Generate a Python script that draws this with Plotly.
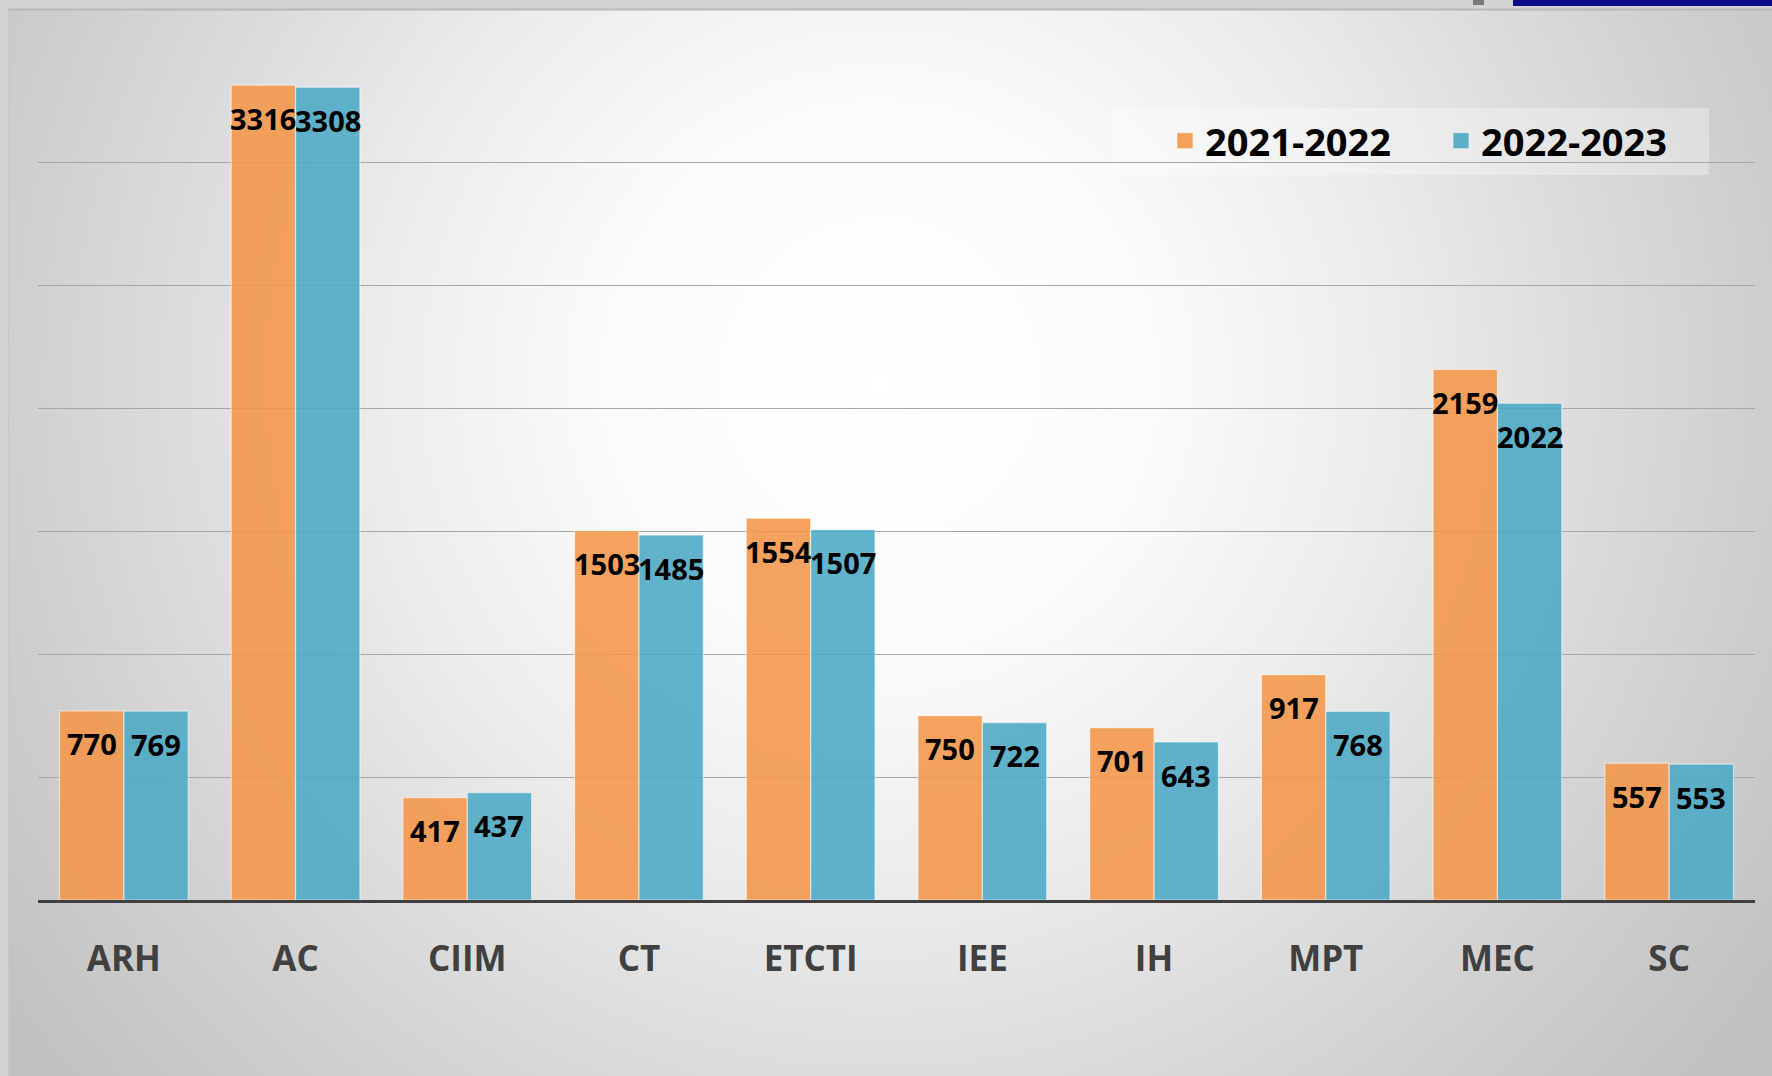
import base64
import plotly.graph_objects as go

categories = ["ARH", "AC", "CIIM", "CT", "ETCTI", "IEE", "IH", "MPT", "MEC", "SC"]
series_2021_2022 = [770, 3316, 417, 1503, 1554, 750, 701, 917, 2159, 557]
series_2022_2023 = [769, 3308, 437, 1485, 1507, 722, 643, 768, 2022, 553]
series_names = ["2021-2022", "2022-2023"]

W, H = 1772, 1076
ML, MR, MT, MB = 38, 17, 40, 176
PW, PH = W - ML - MR, H - MT - MB


def px_x(x):
    return (x - ML) / PW


def px_y(y):
    return (H - MB - y) / PH


# radial gradient panel background
svg = """<svg xmlns='http://www.w3.org/2000/svg' width='1764' height='1067' viewBox='0 0 1764 1067' preserveAspectRatio='none'>
<defs><radialGradient id='g' gradientUnits='userSpaceOnUse' cx='872' cy='370' r='1080'>
<stop offset='0' stop-color='#ffffff'/>
<stop offset='0.25' stop-color='#fbfbfb'/>
<stop offset='0.47' stop-color='#ececec'/>
<stop offset='0.64' stop-color='#dddddd'/>
<stop offset='0.81' stop-color='#cfcfcf'/>
<stop offset='1' stop-color='#c1c1c1'/>
</radialGradient></defs>
<rect x='0' y='0' width='1764' height='1067' fill='url(#g)'/>
</svg>"""
svg_uri = "data:image/svg+xml;base64," + base64.b64encode(svg.encode()).decode()

colors = ["rgb(244,151,73)", "rgb(76,170,197)"]
FONT = "Open Sans, Noto Sans, sans-serif"

fig = go.Figure()
for name, vals, col in zip(series_names, [series_2021_2022, series_2022_2023], colors):
    fig.add_trace(go.Bar(
        name=name, x=categories, y=vals, legendgroup=name, showlegend=False,
        marker=dict(color=col, opacity=0.88,
                    line=dict(color="rgba(255,255,255,0.6)", width=1.2)),
        hoverinfo="x+y+name",
    ))
# legend entries (larger square swatches), toggling the matching bar series
for name, col in zip(series_names, colors):
    fig.add_trace(go.Scatter(
        name=name, x=[None], y=[None], mode="markers", legendgroup=name,
        marker=dict(symbol="square", size=16, color=col, opacity=0.9,
                    line=dict(color="rgba(255,255,255,0.6)", width=1)),
        showlegend=True, hoverinfo="skip",
    ))

annotations = []
half = 0.375 / 2
for i, (a, b) in enumerate(zip(series_2021_2022, series_2022_2023)):
    for xv, v in ((i - half, a), (i + half, b)):
        annotations.append(dict(
            x=xv, y=v, xref="x", yref="y", text=str(v), showarrow=False,
            yanchor="middle", xanchor="center", yshift=-33,
            font=dict(family=FONT, size=29, color="#000000", weight="bold"),
        ))

shapes = [
    # legend box
    dict(type="rect", xref="paper", yref="paper",
         x0=px_x(1113), x1=px_x(1709), y0=px_y(175), y1=px_y(108),
         fillcolor="rgba(255,255,255,0.3)", line=dict(width=0), layer="between"),
    # panel top border
    dict(type="line", xref="paper", yref="paper",
         x0=px_x(8), x1=px_x(W), y0=px_y(9.5), y1=px_y(9.5),
         line=dict(color="#b8b8b8", width=2), layer="below"),
    # panel left border
    dict(type="line", xref="paper", yref="paper",
         x0=px_x(8.5), x1=px_x(8.5), y0=px_y(9), y1=px_y(H),
         line=dict(color="#c8c8c8", width=1), layer="below"),
    # top-right page chrome
    dict(type="rect", xref="paper", yref="paper",
         x0=px_x(1513), x1=px_x(W), y0=px_y(6), y1=px_y(0),
         fillcolor="#0b0b8c", line=dict(width=0), layer="below"),
    dict(type="rect", xref="paper", yref="paper",
         x0=px_x(1473), x1=px_x(1484), y0=px_y(5), y1=px_y(0),
         fillcolor="#7a7a7a", line=dict(width=0), layer="below"),
]

fig.update_layout(
    width=W, height=H,
    margin=dict(l=ML, r=MR, t=MT, b=MB),
    paper_bgcolor="#d3d3d3",
    plot_bgcolor="rgba(0,0,0,0)",
    barmode="group", bargap=0.25, bargroupgap=0,
    images=[dict(source=svg_uri, xref="paper", yref="paper",
                 x=px_x(8), y=px_y(9), sizex=(W - 8) / PW, sizey=(H - 9) / PH,
                 xanchor="left", yanchor="top", sizing="stretch", layer="below")],
    shapes=shapes,
    annotations=annotations,
    showlegend=True,
    legend=dict(orientation="h", x=px_x(1165), xanchor="left",
                y=px_y(141), yanchor="middle", bgcolor="rgba(0,0,0,0)",
                entrywidth=231, entrywidthmode="pixels", itemsizing="trace",
                font=dict(family=FONT, size=38, color="#000000", weight="bold")),
    xaxis=dict(showline=True, linecolor="#404040", linewidth=3,
               ticks="", ticklabelstandoff=26, showgrid=False,
               tickfont=dict(family=FONT, size=35, color="#404040", weight="bold")),
    yaxis=dict(range=[0, 3500], dtick=500, showticklabels=False,
               showgrid=True, gridcolor="#a6a6a6", gridwidth=1,
               zeroline=False, showline=False),
)

fig.write_html("out.html", config={"displayModeBar": False},
               post_script="document.body.style.margin='0';document.body.style.overflow='hidden';")
